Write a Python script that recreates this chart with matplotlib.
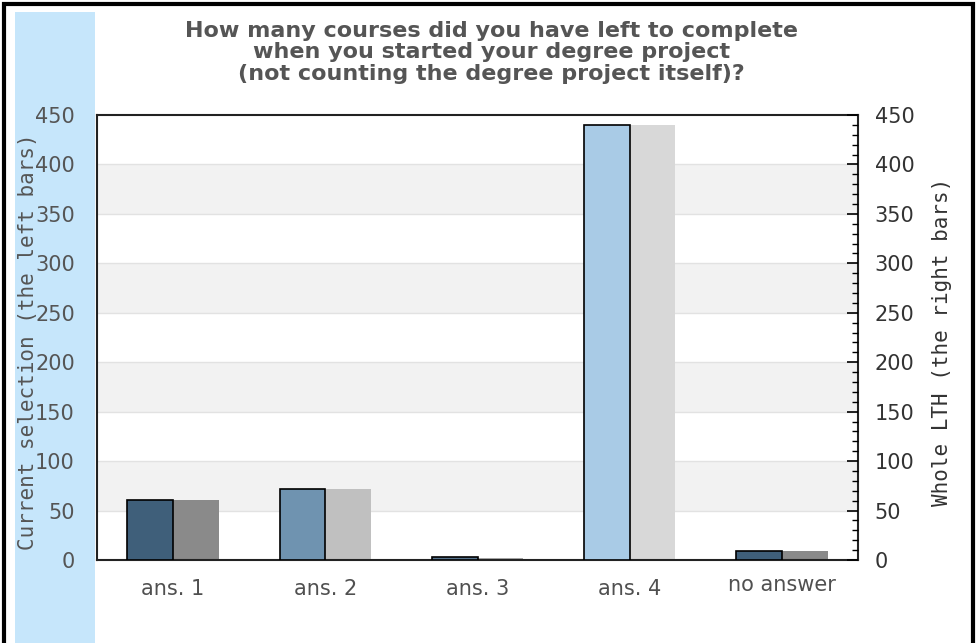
import numpy as np
import matplotlib.pyplot as plt
from matplotlib.patches import Rectangle

# survey answers
categories = ["ans. 1", "ans. 2", "ans. 3", "ans. 4", "no answer"]
current_sel = [61, 72, 3, 440, 9]     # left bars
whole_lth = [61, 72, 2, 440, 9]       # right bars

left_colors = ["#3f5f7a", "#6f93b0", "#56738d", "#a9cbe6", "#3f5f7a"]
right_colors = ["#8a8a8a", "#c0c0c0", "#a8a8a8", "#d8d8d8", "#8a8a8a"]

title = ("How many courses did you have left to complete\n"
         "when you started your degree project\n"
         "(not counting the degree project itself)?")

fig = plt.figure(figsize=(9.77, 6.43), dpi=100)

# outer frame and blue strip
fig.patches.append(Rectangle((4/977, -0.01), 969/977, 1.0 - 4/643 + 0.01, transform=fig.transFigure,
                             fill=False, edgecolor="black", linewidth=3))
fig.patches.append(Rectangle((15/977, 0), 80/977, 1 - 12/643, transform=fig.transFigure,
                             facecolor="#c6e6fb", edgecolor="none", zorder=-1))

ax = fig.add_axes([97/977, 83/643, 761/977, 445/643])
x = np.arange(len(categories))
w = 0.3

# alternating bands + grid
for lo in range(50, 450, 100):
    ax.axhspan(lo, lo + 50, color="#f2f2f2", zorder=0, lw=0)
for y in range(50, 450, 50):
    ax.axhline(y, color="#e2e2e2", lw=1, zorder=0.5)

ax.bar(x - w/2, current_sel, w, color=left_colors, edgecolor="black", linewidth=1.2, zorder=3)
ax.bar(x + w/2, whole_lth, w, color=right_colors, edgecolor="none", zorder=2)

ax.set_xlim(-0.5, 4.5)
ax.set_ylim(0, 450)
ax.set_xticks(x)
ax.set_xticklabels(categories, fontsize=15, color="#505050")
ax.tick_params(axis="x", length=0, pad=14)
ax.get_xticklabels()[-1].set_y(0.01)
ax.set_yticks(range(0, 451, 50))
ax.tick_params(axis="y", length=0, pad=16, labelsize=15, labelcolor="#555555")
for s in ax.spines.values():
    s.set_linewidth(1.5)
    s.set_color("#222222")
ax.set_ylabel("Current selection (the left bars)", family="DejaVu Sans Mono",
              fontsize=15, color="#555555")
ax.yaxis.set_label_coords(-0.0775, 0.491)

ax2 = ax.twinx()
ax2.set_ylim(0, 450)
ax2.set_yticks(range(0, 451, 50))
ax2.set_yticks(range(0, 451, 10), minor=True)
ax2.tick_params(axis="y", which="major", direction="in", length=8, width=1.2,
                pad=12, labelsize=15, labelcolor="#333333")
ax2.tick_params(axis="y", which="minor", direction="in", length=4, width=1)
for s in ax2.spines.values():
    s.set_visible(False)
ax2.set_ylabel("Whole LTH (the right bars)", family="DejaVu Sans Mono",
               fontsize=15, color="#333333")
ax2.yaxis.set_label_coords(1.097, 0.491)

fig.text(0.503, 0.968, title, ha="center", va="top", fontsize=16, fontweight="bold",
         color="#555555", family="DejaVu Sans", linespacing=1.12)

plt.savefig("out.png", dpi=100)
